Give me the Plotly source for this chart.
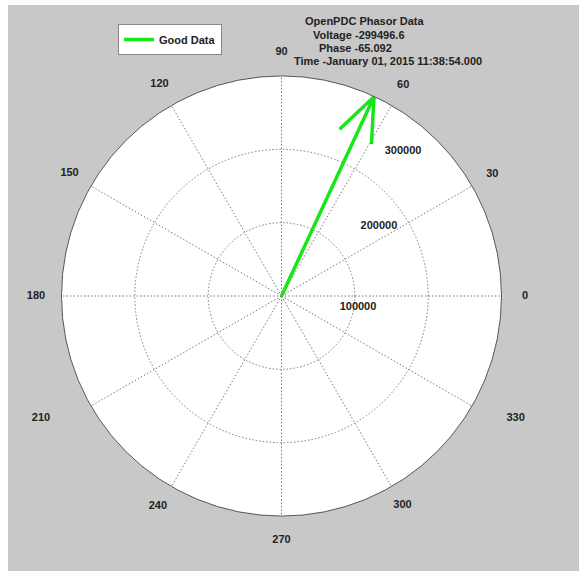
import numpy as np
import plotly.graph_objects as go

# Phasor sample
voltage = 299496.6
phase = -65.092
timestamp = "January 01, 2015 11:38:54.000"
series_name = "Good Data"

# Axis settings
r_max = 300000
ring_values = [100000, 200000, 300000]
ring_labels = ["100000", "200000", "300000"]
angle_ticks = list(range(0, 360, 30))

# where the angle labels sit (same radial units as the plot)
angle_label_r = [332000, 332000, 332000, 332700, 332700, 333700,
                 334800, 367800, 332200, 332700, 330000, 360000]
angle_label_theta = [0, 30, 60, 90, 120, 150, 180, 206.9, 239.5, 270, 300, 332.5]

# where the ring labels sit
ring_lab_r = [105400, 163600, 257900]
ring_lab_theta = [-8.2, 35.7, 50.0]

W, H = 579, 571
cx, cy, R = 281.5, 296.0, 220.0
R_OUT = 270.0
BG = "#c8c8c8"
GREEN = "rgb(25,230,25)"
FONT = "Liberation Sans, Arial, sans-serif"
GRID = "#7a7a7a"
DOTS = "1.5px,2px"

# compass-style arrow: shaft plus two barbs (0.8 length, +/-0.08 side)
ang = np.deg2rad(-phase)
shape_a = np.array([0, 1, 0.8, 1, 0.8])
shape_b = np.array([0, 0, 0.08, 0, -0.08])
z = voltage * np.exp(1j * ang) * (shape_a + 1j * shape_b)
arrow_r = np.abs(z)
arrow_theta = np.rad2deg(np.angle(z))

fig = go.Figure()

fig.add_trace(go.Scatterpolar(
    r=arrow_r, theta=arrow_theta, mode="lines",
    line=dict(color=GREEN, width=3.5),
    name=f"<b>{series_name}</b>", showlegend=True,
))

fig.add_trace(go.Scatterpolar(
    r=ring_lab_r, theta=ring_lab_theta, mode="text",
    text=[f"<b>{t}</b>" for t in ring_labels],
    textfont=dict(family=FONT, size=11, color="#222"),
    cliponaxis=False, showlegend=False, hoverinfo="skip",
))

# angle labels on a transparent, wider polar frame sharing the same centre
fig.add_trace(go.Scatterpolar(
    r=angle_label_r, theta=angle_label_theta, mode="text",
    text=[f"<b>{a}</b>" for a in angle_ticks],
    textfont=dict(family=FONT, size=11, color="#222"),
    subplot="polar2", cliponaxis=False, showlegend=False, hoverinfo="skip",
))

hidden_axis = dict(visible=False, showgrid=False, showline=False,
                   showticklabels=False, ticks="")

fig.update_layout(
    width=W, height=H,
    margin=dict(l=0, r=0, t=0, b=0),
    paper_bgcolor="white",
    plot_bgcolor=BG,
    font=dict(family=FONT, size=11, color="#222"),
    polar=dict(
        domain=dict(x=[(cx - R) / W, (cx + R) / W],
                    y=[1 - (cy + R) / H, 1 - (cy - R) / H]),
        bgcolor="white",
        radialaxis=dict(
            range=[0, r_max], tickvals=ring_values, showticklabels=False,
            ticks="", showline=False, gridcolor=GRID, griddash=DOTS,
            gridwidth=1,
        ),
        angularaxis=dict(
            tickmode="array", tickvals=angle_ticks, showticklabels=False,
            ticks="", direction="counterclockwise", rotation=0,
            showline=True, linecolor="#555", linewidth=1,
            gridcolor=GRID, griddash=DOTS, gridwidth=1,
        ),
    ),
    polar2=dict(
        domain=dict(x=[(cx - R_OUT) / W, (cx + R_OUT) / W],
                    y=[1 - (cy + R_OUT) / H, 1 - (cy - R_OUT) / H]),
        bgcolor="rgba(0,0,0,0)",
        radialaxis=dict(range=[0, r_max * R_OUT / R], **hidden_axis),
        angularaxis=dict(direction="counterclockwise", rotation=0,
                         **hidden_axis),
    ),
    legend=dict(
        x=118 / W, y=1 - 24 / H, xanchor="left", yanchor="top",
        bgcolor="white", bordercolor="#888", borderwidth=1,
        font=dict(family=FONT, size=11, color="#222"),
        itemwidth=30, tracegroupgap=0,
    ),
    shapes=[dict(type="rect", xref="paper", yref="paper",
                 x0=8 / W, x1=1, y0=0, y1=1 - 5 / H,
                 fillcolor=BG, line=dict(width=0), layer="below")],
)

title_lines = [
    ("OpenPDC Phasor Data", 364, 21),
    (f"Voltage -{voltage}", 359, 35),
    (f"Phase {phase}", 355, 48),
    (f"Time -{timestamp}", 388, 61),
]
for txt, x, y in title_lines:
    fig.add_annotation(
        x=x / W, y=1 - y / H, xref="paper", yref="paper",
        text=f"<b>{txt}</b>", showarrow=False,
        xanchor="center", yanchor="middle",
        font=dict(family=FONT, size=11, color="#222"),
    )

fig.write_html("out.html")
